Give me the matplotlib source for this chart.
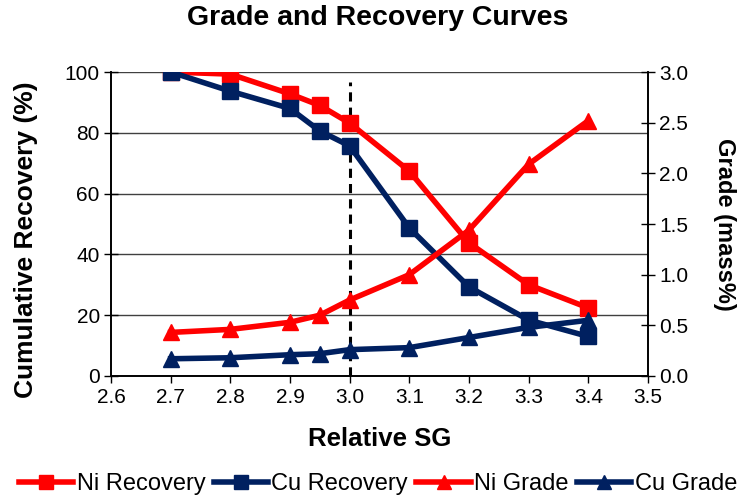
import matplotlib
matplotlib.use("Agg")
from matplotlib import pyplot as plt
from matplotlib.ticker import FormatStrFormatter

plt.rcParams['font.family'] = ['Liberation Sans', 'DejaVu Sans']

sg = [2.7, 2.8, 2.9, 2.95, 3.0, 3.1, 3.2, 3.3, 3.4]
ni_recovery = [100, 99.3, 92.8, 89.0, 83.2, 67.4, 43.8, 30.0, 22.4]
cu_recovery = [100, 93.7, 88.0, 80.6, 75.7, 48.7, 29.3, 18.4, 13.0]
ni_grade = [0.43, 0.46, 0.53, 0.60, 0.75, 1.00, 1.44, 2.09, 2.52]
cu_grade = [0.17, 0.18, 0.21, 0.22, 0.26, 0.28, 0.38, 0.48, 0.55]
cutoff_sg = 3.0

red = "#FF0000"
navy = "#002060"

fig = plt.figure(figsize=(7.56, 4.99), dpi=100)
ax = fig.add_axes([0.1468, 0.2465, 0.7103, 0.6092])
ax2 = ax.twinx()

ax.set_xlim(2.6, 3.5)
ax.set_ylim(0, 100)
ax2.set_ylim(0, 3.0)
ax.set_xticks([2.6, 2.7, 2.8, 2.9, 3.0, 3.1, 3.2, 3.3, 3.4, 3.5])
ax.set_yticks(range(0, 101, 20))
ax2.set_yticks([0, 0.5, 1.0, 1.5, 2.0, 2.5, 3.0])
ax.xaxis.set_major_formatter(FormatStrFormatter("%.1f"))
ax2.yaxis.set_major_formatter(FormatStrFormatter("%.1f"))

ax.yaxis.grid(True, color="#404040", lw=1)
ax.set_axisbelow(True)
for a in (ax, ax2):
    a.spines['top'].set_visible(False)
    for s in a.spines.values():
        s.set_linewidth(1.2)
    a.tick_params(axis="y", direction="inout", length=10, width=1, labelsize=15, pad=3)
    a.tick_params(axis="x", direction="out", length=5, width=1, labelsize=15, pad=4)

ax.axvline(cutoff_sg, ymax=0.967, color="black", ls="--", lw=2.2, dashes=(3, 2), zorder=1)

kw = dict(lw=4, markersize=11)
l1, = ax.plot(sg, ni_recovery, color=red, marker="s", label="Ni Recovery", **kw)
l2, = ax.plot(sg, cu_recovery, color=navy, marker="s", label="Cu Recovery", **kw)
l3, = ax2.plot(sg, ni_grade, color=red, marker="^", label="Ni Grade", **kw)
l4, = ax2.plot(sg, cu_grade, color=navy, marker="^", label="Cu Grade", **kw)

fig.text(0.5, 1 - 25 / 499, "Grade and Recovery Curves", ha="center", va="baseline",
         fontsize=20.5, fontweight="bold")
ax.set_xlabel("Relative SG", fontsize=18.5, fontweight="bold", labelpad=14)
ax.set_ylabel("Cumulative Recovery (%)", fontsize=19, fontweight="bold")
ax.yaxis.set_label_coords(-0.136, 0.447)
ax2.set_ylabel("Grade (mass%)", fontsize=17, fontweight="bold", rotation=270, labelpad=34)

fig.legend(handles=[l1, l2, l3, l4], loc="center", bbox_to_anchor=(0.5, 1 - 484 / 499), ncol=4,
           frameon=False, fontsize=17, handlelength=2.3, handletextpad=0.15, columnspacing=0.35,
           markerscale=0.9)

plt.savefig("out.png", dpi=100)
